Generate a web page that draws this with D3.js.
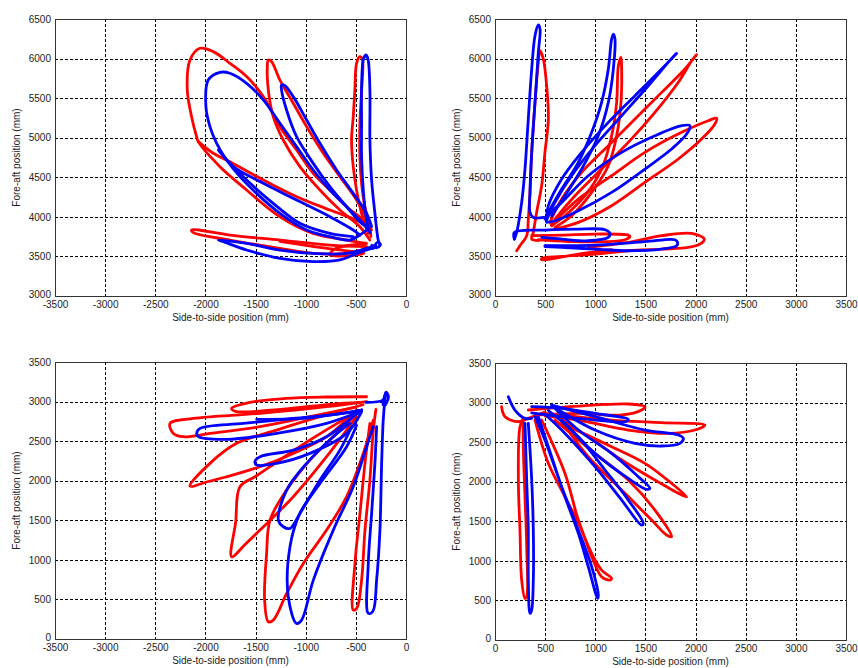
<!DOCTYPE html>
<html>
<head>
<meta charset="utf-8">
<script src="https://cdn.jsdelivr.net/npm/d3@7"></script>
<style>
  html, body { margin: 0; padding: 0; background: #fff; }
  svg { display: block; }
  text { font-family: "Liberation Sans", Arial, sans-serif; fill: #222; }
</style>
</head>
<body>
<svg id="chart" width="858" height="668"></svg>
<script>
// ---------- Tick labels ----------
const xTicksLeft = [-3500, -3000, -2500, -2000, -1500, -1000, -500, 0];
const xTicksRight = [0, 500, 1000, 1500, 2000, 2500, 3000, 3500];
const yTicksTop = [3000, 3500, 4000, 4500, 5000, 5500, 6000, 6500];
const yTicksBottom = [0, 500, 1000, 1500, 2000, 2500, 3000, 3500];
const xTitle = "Side-to-side position (mm)";
const yTitle = "Fore-aft position (mm)";

// ---------- Panel 1 (top-left) trajectories [side-to-side, fore-aft] ----------
const p1Red = [
  [[-343,3834],[-426,3960],[-592,4128],[-759,4339],[-925,4550],[-1091,4845],[-1257,5140],[-1423,5519],[-1589,5772],[-1756,5940],[-1922,6088],[-2055,6130],[-2154,5982],[-2181,5603],[-2138,5266],[-2088,5013],[-2071,4950],[-1855,4634],[-1589,4339],[-1257,4002],[-925,3792],[-592,3707],[-393,3665]],
  [[-2071,4950],[-1922,4803],[-1756,4697],[-1423,4466],[-1091,4255],[-759,4086],[-426,3918],[-360,3834]],
  [[-360,3707],[-460,3876],[-659,4086],[-858,4339],[-1058,4634],[-1224,4971],[-1324,5266],[-1373,5603],[-1383,5898],[-1373,5982],[-1340,5961],[-1257,5729],[-1124,5435],[-991,5140],[-825,4803],[-659,4508],[-493,4213],[-393,3960],[-360,3800]],
  [[-376,3791],[-443,4044],[-493,4339],[-526,4634],[-543,4971],[-526,5266],[-510,5603],[-493,5940],[-460,6024],[-435,5990],[-443,5603],[-460,5182],[-460,4761],[-443,4424],[-410,4128],[-360,3876],[-350,3750]],
  [[-393,3623],[-759,3644],[-1257,3707],[-1756,3770],[-2138,3834],[-2120,3800],[-1756,3707],[-1257,3602],[-925,3539],[-592,3539],[-393,3600]],
  [[-1257,3690],[-900,3620],[-593,3570],[-420,3540],[-560,3510],[-760,3520],[-700,3600],[-400,3660]]
];
const p1Blue = [
  [[-393,3834],[-460,3771],[-559,3707],[-759,3749],[-991,3834],[-1257,4044],[-1490,4297],[-1656,4508],[-1789,4718],[-1888,4929],[-1955,5140],[-1995,5392],[-1972,5729],[-1855,5826],[-1756,5814],[-1589,5687],[-1423,5477],[-1257,5182],[-1091,4887],[-925,4592],[-759,4339],[-592,4128],[-460,3960],[-380,3850]],
  [[-370,3860],[-443,3918],[-592,4128],[-759,4381],[-925,4676],[-1091,5013],[-1191,5350],[-1241,5603],[-1241,5666],[-1210,5660],[-1124,5519],[-991,5224],[-858,4929],[-692,4592],[-526,4297],[-393,4044],[-343,3876]],
  [[-360,3800],[-393,3960],[-426,4339],[-443,4761],[-443,5182],[-443,5603],[-426,5982],[-400,6045],[-380,6000],[-360,5603],[-360,4971],[-343,4466],[-310,4044],[-277,3707],[-260,3644]],
  [[-460,3771],[-526,3834],[-759,4002],[-1091,4213],[-1423,4424],[-1722,4634],[-1872,4845],[-1830,4780],[-1589,4466],[-1324,4171],[-1058,3918],[-759,3791],[-526,3749]],
  [[-300,3640],[-592,3539],[-925,3539],[-1257,3581],[-1589,3665],[-1872,3707],[-1830,3690],[-1589,3581],[-1257,3476],[-925,3434],[-659,3455],[-526,3518],[-393,3581],[-300,3620]],
  [[-330,3600],[-280,3680],[-255,3650],[-290,3610],[-340,3640]]
];

// ---------- Panel 2 (top-right) ----------
const p2Red = [
  [[216,3572],[249,3635],[316,3762],[332,3972],[349,4309],[366,4815],[399,5447],[432,5952],[449,6100],[482,5994],[515,5657],[532,5236],[498,4815],[465,4393],[415,4056],[382,3804],[366,3719],[430,3700]],
  [[565,3888],[698,4014],[897,4267],[1063,4604],[1163,5025],[1213,5447],[1230,5910],[1256,6016],[1262,5910],[1256,5447],[1213,5025],[1130,4646],[964,4309],[764,4014],[598,3867]],
  [[548,3930],[665,4225],[864,4562],[1130,4899],[1396,5236],[1662,5573],[1894,5868],[2010,6049],[1960,5970],[1828,5700],[1595,5320],[1329,4941],[1063,4604],[798,4267],[598,3972]],
  [[560,3900],[831,4225],[1163,4520],[1495,4815],[1861,5068],[2127,5215],[2210,5245],[2193,5173],[2060,4983],[1828,4731],[1495,4436],[1163,4141],[831,3930],[598,3846]],
  [[432,3711],[598,3698],[831,3686],[1097,3686],[1296,3711],[1346,3753],[1329,3770],[997,3783],[665,3770],[366,3762]],
  [[930,3614],[1329,3677],[1662,3762],[1961,3791],[2087,3720],[2060,3669],[1927,3614],[1662,3593],[1329,3572],[997,3530],[665,3500],[465,3475],[465,3458],[831,3530],[1163,3585]]
];
const p2Blue = [
  [[193,3719],[216,3804],[266,4183],[299,4604],[332,5236],[366,5868],[399,6289],[432,6424],[449,6374],[432,6079],[399,5447],[366,4815],[349,4309],[349,4056],[382,3993],[482,3993]],
  [[498,3972],[532,4056],[665,4351],[831,4688],[964,5068],[1063,5447],[1130,5868],[1163,6247],[1180,6310],[1196,6247],[1180,5868],[1130,5447],[1030,5025],[864,4604],[698,4267],[565,4014]],
  [[515,3990],[532,4141],[665,4478],[864,4815],[1130,5194],[1396,5531],[1662,5868],[1811,6066],[1760,6000],[1529,5657],[1263,5278],[997,4899],[764,4520],[598,4183],[515,3960]],
  [[498,3990],[665,4183],[930,4520],[1263,4815],[1595,5025],[1861,5152],[1944,5152],[1911,5046],[1761,4857],[1495,4604],[1163,4309],[831,4077],[598,3951],[515,3930]],
  [[193,3719],[193,3804],[498,3833],[831,3846],[1097,3837],[1146,3790],[1130,3740],[930,3698],[665,3719],[465,3740]],
  [[498,3635],[997,3644],[1495,3686],[1794,3711],[1821,3677],[1811,3635],[1662,3593],[1329,3572],[997,3593],[665,3614],[498,3625]]
];

// ---------- Panel 3 (bottom-left) ----------
const p3Red = [
  [[-393,3061],[-800,3058],[-1200,3040],[-1556,2990],[-1739,2914],[-1700,2876],[-1224,2905],[-726,2969],[-460,2990]],
  [[-393,3000],[-792,2935],[-1456,2851],[-2121,2787],[-2353,2724],[-2320,2598],[-2220,2556],[-1955,2598],[-1456,2682],[-958,2809],[-500,2930]],
  [[-430,2960],[-858,2809],[-1290,2640],[-1689,2472],[-1955,2219],[-2154,1932],[-1971,1990],[-1788,2050],[-1456,2177],[-1124,2345],[-792,2556],[-493,2893]],
  [[-493,2870],[-958,2514],[-1356,2177],[-1506,2050],[-1656,1924],[-1698,1480],[-1739,1039],[-1600,1200],[-1456,1376],[-1124,1798],[-792,2303],[-493,2810]],
  [[-460,2880],[-692,2598],[-958,2261],[-1190,1882],[-1356,1503],[-1390,1081],[-1410,500],[-1373,218],[-1323,239],[-1190,576],[-1024,955],[-792,1376],[-592,1798],[-426,2345],[-326,2766]],
  [[-360,2724],[-409,2219],[-459,1587],[-509,955],[-526,365],[-490,390],[-443,744],[-409,1376],[-360,2008],[-326,2640],[-300,2900]]
];
const p3Blue = [
  [[-443,2893],[-626,2851],[-1124,2787],[-1622,2724],[-2054,2661],[-2087,2598],[-2071,2556],[-1788,2522],[-1290,2598],[-792,2724],[-443,2880]],
  [[-1489,2775],[-1000,2790],[-600,2860],[-443,2893]],
  [[-443,2893],[-526,2809],[-792,2556],[-1124,2387],[-1456,2303],[-1506,2240],[-1489,2198],[-1290,2219],[-958,2345],[-592,2598],[-443,2870]],
  [[-559,2724],[-725,2556],[-991,2219],[-1190,1882],[-1273,1503],[-1223,1418],[-1157,1397],[-1058,1587],[-858,2008],[-659,2387],[-542,2682]],
  [[-493,2700],[-592,2430],[-858,1966],[-1058,1587],[-1157,1165],[-1174,534],[-1091,197],[-1041,239],[-924,744],[-725,1376],[-526,1924],[-393,2430],[-326,2682]],
  [[-293,2682],[-310,2219],[-343,1587],[-376,955],[-376,323],[-330,350],[-293,744],[-260,1376],[-243,2219],[-227,2766],[-210,3019],[-200,3110],[-230,3020],[-400,2990]],
  [[-230,2960],[-200,3120],[-175,3060],[-205,2960]]
];

// ---------- Panel 4 (bottom-right) ----------
const p4Red = [
  [[399,2843],[831,2864],[1263,2843],[1462,2906],[1495,2948],[1329,2982],[831,2956],[332,2906]],
  [[498,2864],[1163,2779],[1662,2746],[2094,2716],[1994,2653],[1728,2611],[1329,2653],[831,2779],[500,2830]],
  [[665,2737],[1163,2442],[1495,2232],[1761,1979],[1911,1810],[1861,1832],[1595,2021],[1263,2274],[930,2569],[665,2780]],
  [[598,2779],[997,2358],[1329,2021],[1595,1642],[1761,1305],[1711,1326],[1562,1516],[1263,1895],[930,2316],[665,2760]],
  [[399,2779],[532,2232],[698,1810],[864,1389],[964,1052],[1063,799],[1146,757],[1163,778],[1063,884],[964,1094],[831,1516],[698,2105],[465,2779]],
  [[282,2800],[249,2695],[233,2021],[249,1389],[266,757],[299,526],[316,547],[316,1179],[299,1810],[282,2442],[282,2750]],
  [[66,2948],[100,2822],[233,2758],[332,2800],[498,2880]]
];
const p4Blue = [
  [[133,3074],[199,2906],[299,2800],[366,2800]],
  [[366,2948],[665,2927],[997,2864],[1329,2788],[1296,2758],[997,2779],[665,2822],[366,2870]],
  [[565,2969],[997,2822],[1495,2653],[1828,2590],[1878,2548],[1844,2485],[1662,2451],[1396,2485],[997,2653],[565,2960]],
  [[565,2969],[831,2653],[1163,2358],[1429,2063],[1545,1916],[1512,1903],[1329,2042],[997,2358],[665,2779]],
  [[532,2900],[831,2569],[1097,2148],[1329,1768],[1479,1473],[1462,1452],[1263,1768],[997,2190],[665,2653],[500,2850]],
  [[432,2822],[565,2316],[698,1810],[831,1347],[930,926],[1023,526],[1030,560],[964,926],[831,1389],[665,1937],[498,2527],[400,2822]],
  [[299,2737],[316,2021],[332,1389],[332,757],[349,336],[366,380],[382,757],[382,1389],[366,2021],[332,2737]]
];

// ---------- Layout ----------
const panels = [
  {left: 55,  top: 19,  xDom: [-3500, 0], yDom: [3000, 6500], xt: xTicksLeft,  yt: yTicksTop,    red: p1Red, blue: p1Blue},
  {left: 495, top: 19,  xDom: [0, 3500],  yDom: [3000, 6500], xt: xTicksRight, yt: yTicksTop,    red: p2Red, blue: p2Blue},
  {left: 55,  top: 362, xDom: [-3500, 0], yDom: [0, 3500],    xt: xTicksLeft,  yt: yTicksBottom, red: p3Red, blue: p3Blue},
  {left: 495, top: 363, xDom: [0, 3500],  yDom: [0, 3500],    xt: xTicksRight, yt: yTicksBottom, red: p4Red, blue: p4Blue}
];
const W = 351, H = 277;
const fmt = d => String(d);

const svg = d3.select("#chart");

panels.forEach((p, i) => {
  const g = svg.append("g").attr("transform", `translate(${p.left},${p.top})`);
  const x = d3.scaleLinear().domain(p.xDom).range([0, W]);
  const y = d3.scaleLinear().domain(p.yDom).range([H, 0]);

  g.append("rect").attr("width", W).attr("height", H).attr("fill", "#fff");

  // grid
  const gx = g.append("g");
  p.xt.slice(1, -1).forEach(t => {
    gx.append("line").attr("x1", Math.round(x(t)) + 0.5).attr("x2", Math.round(x(t)) + 0.5).attr("y1", 0).attr("y2", H)
      .attr("stroke", "#000").attr("stroke-width", 1).attr("stroke-dasharray", "3,2");
  });
  p.yt.slice(1, -1).forEach(t => {
    gx.append("line").attr("y1", Math.round(y(t)) + 0.5).attr("y2", Math.round(y(t)) + 0.5).attr("x1", 0).attr("x2", W)
      .attr("stroke", "#000").attr("stroke-width", 1).attr("stroke-dasharray", "3,2");
  });

  // trajectories
  const line = d3.line().x(d => x(d[0])).y(d => y(d[1])).curve(d3.curveCatmullRom.alpha(0.5));
  const clipId = "clip" + i;
  g.append("clipPath").attr("id", clipId).append("rect").attr("width", W).attr("height", H);
  const traces = g.append("g").attr("clip-path", `url(#${clipId})`);
  p.red.forEach(seg => traces.append("path").attr("d", line(seg)).attr("fill", "none")
    .attr("stroke", "#ff0000").attr("stroke-width", 2.8).attr("stroke-linejoin", "round").attr("stroke-linecap", "round"));
  p.blue.forEach(seg => traces.append("path").attr("d", line(seg)).attr("fill", "none")
    .attr("stroke", "#0000ff").attr("stroke-width", 2.8).attr("stroke-linejoin", "round").attr("stroke-linecap", "round"));

  // axes box
  g.append("rect").attr("x", 0.5).attr("y", 0.5).attr("width", W).attr("height", H).attr("fill", "none")
    .attr("stroke", "#333").attr("stroke-width", 1);

  // tick labels
  const xAxis = d3.axisBottom(x).tickValues(p.xt).tickFormat(fmt).tickSize(0).tickPadding(5);
  const ax = g.append("g").attr("transform", `translate(0,${H})`).call(xAxis);
  ax.select(".domain").remove();
  ax.selectAll("text").attr("font-size", 10).attr("font-family", "Liberation Sans, Arial, sans-serif").attr("fill", "#222");

  const yAxis = d3.axisLeft(y).tickValues(p.yt).tickFormat(fmt).tickSize(0).tickPadding(4);
  const ay = g.append("g").call(yAxis);
  ay.select(".domain").remove();
  ay.selectAll("text").attr("font-size", 10).attr("font-family", "Liberation Sans, Arial, sans-serif").attr("fill", "#222");
  ay.selectAll(".tick").filter((d, k) => k === 0).select("text").attr("dy", "0.1em");

  // titles
  g.append("text").attr("x", W / 2).attr("y", H + 25).attr("text-anchor", "middle")
    .attr("font-size", 10).text(xTitle);
  g.append("text").attr("transform", `translate(-35,${H / 2}) rotate(-90)`)
    .attr("text-anchor", "middle").attr("font-size", 10).text(yTitle);
});
</script>
</body>
</html>
